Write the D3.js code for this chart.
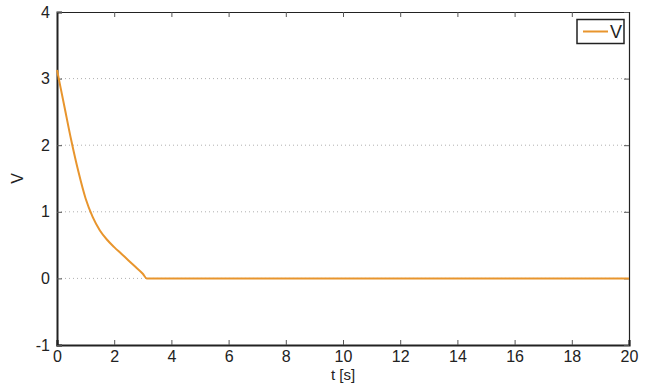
<!DOCTYPE html>
<html>
<head>
<meta charset="utf-8">
<script src="https://cdn.jsdelivr.net/npm/d3@7"></script>
<style>
  body { margin: 0; background: #fff; }
  text { font-family: "Liberation Sans", Arial, Helvetica, sans-serif; fill: #222; }
</style>
</head>
<body>
<div id="chart"></div>
<script>
// time samples [s] and V values
const tValues = [0, 0.25, 0.5, 0.75, 1.0, 1.25, 1.5, 1.75, 2.0, 2.25, 2.5, 2.75, 3.0, 3.14, 20];
const vValues = [3.13, 2.6, 2.07, 1.6, 1.2, 0.92, 0.72, 0.58, 0.47, 0.37, 0.27, 0.17, 0.07, 0, 0];
const xTicks = [0, 2, 4, 6, 8, 10, 12, 14, 16, 18, 20];
const yTicks = [-1, 0, 1, 2, 3, 4];
const seriesName = "V";

const width = 656, height = 383;
const margin = { top: 12, right: 27, bottom: 38, left: 57 };
const lineColor = "#e8952d";

const svg = d3.select("#chart").append("svg")
    .attr("width", width)
    .attr("height", height);

const x = d3.scaleLinear().domain([0, 20]).range([margin.left, width - margin.right]);
const y = d3.scaleLinear().domain([-1, 4]).range([height - margin.bottom, margin.top]);

// dotted horizontal grid
svg.append("g")
    .selectAll("line")
    .data(yTicks.filter(d => d > -1 && d < 4))
    .enter().append("line")
    .attr("x1", x(0)).attr("x2", x(20))
    .attr("y1", d => y(d)).attr("y2", d => y(d))
    .attr("stroke", "#b0b0b0")
    .attr("stroke-width", 1)
    .attr("stroke-dasharray", "1,3");

// inward ticks on all four sides, plain hyphen minus like the original
const plain = d => String(d);
const tickLen = 5;
const axisBottom = d3.axisBottom(x).tickValues(xTicks).tickSize(-tickLen).tickPadding(6).tickFormat(plain);
const axisTop = d3.axisTop(x).tickValues(xTicks).tickSize(-tickLen).tickFormat("");
const axisLeft = d3.axisLeft(y).tickValues(yTicks).tickSize(-tickLen).tickPadding(7).tickFormat(plain);
const axisRight = d3.axisRight(y).tickValues(yTicks).tickSize(-tickLen).tickFormat("");

function styleAxis(g, w) {
    g.select(".domain").attr("stroke", "#222").attr("stroke-width", w);
    g.selectAll(".tick line").attr("stroke", "#555").attr("stroke-width", 1);
    g.selectAll(".tick text").style("font-size", "16px").attr("fill", "#222");
}

svg.append("g")
    .attr("transform", "translate(0," + y(-1) + ")")
    .call(axisBottom)
    .call(g => styleAxis(g, 2.2));

svg.append("g")
    .attr("transform", "translate(0," + y(4) + ")")
    .call(axisTop)
    .call(g => styleAxis(g, 1));

svg.append("g")
    .attr("transform", "translate(" + x(0) + ",0)")
    .call(axisLeft)
    .call(g => styleAxis(g, 2));

svg.append("g")
    .attr("transform", "translate(" + x(20) + ",0)")
    .call(axisRight)
    .call(g => styleAxis(g, 1.2));

// the curve
const data = tValues.map((t, i) => ({ t: t, v: vValues[i] }));
const line = d3.line()
    .x(d => x(d.t))
    .y(d => y(d.v))
    .curve(d3.curveMonotoneX);

svg.append("path")
    .datum(data)
    .attr("fill", "none")
    .attr("stroke", lineColor)
    .attr("stroke-width", 2)
    .attr("stroke-linejoin", "round")
    .attr("d", line);

// axis labels
svg.append("text")
    .attr("x", (x(0) + x(20)) / 2)
    .attr("y", 380)
    .attr("text-anchor", "middle")
    .style("font-size", "15px")
    .text("t [s]");

svg.append("text")
    .attr("transform", "translate(23," + y(1.5) + ") rotate(-90)")
    .attr("text-anchor", "middle")
    .style("font-size", "16px")
    .text("V");

// legend
const legend = svg.append("g").attr("transform", "translate(577,19.5)");
legend.append("rect")
    .attr("width", 47).attr("height", 24)
    .attr("fill", "#fff")
    .attr("stroke", "#222")
    .attr("stroke-width", 1.5);
legend.append("line")
    .attr("x1", 6).attr("x2", 31)
    .attr("y1", 12).attr("y2", 12)
    .attr("stroke", lineColor)
    .attr("stroke-width", 2);
legend.append("text")
    .attr("x", 33).attr("y", 18.5)
    .style("font-size", "18px")
    .text(seriesName);
</script>
</body>
</html>
